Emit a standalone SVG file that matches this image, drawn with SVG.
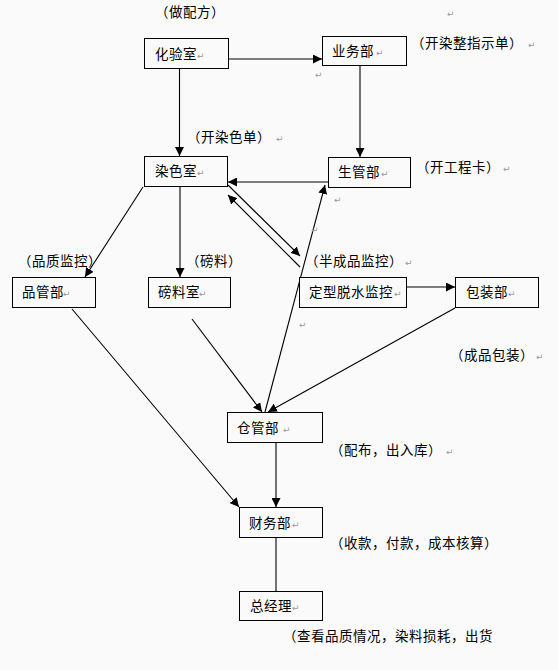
<svg xmlns="http://www.w3.org/2000/svg" width="558" height="670" viewBox="0 0 558 670">
<style>
.box{fill:#fafafa;stroke:#000;stroke-width:1}
.t{font-family:"Noto Sans CJK SC","Noto Sans CJK TC",sans-serif;font-size:13.5px;letter-spacing:0.5px;fill:#000}
.r{font-family:"DejaVu Sans",sans-serif;font-size:9px;fill:#999}
.c{stroke:#000;stroke-width:1.1;fill:none;marker-end:url(#ah)}
</style>
<defs>
<marker id="ah" viewBox="0 0 10 10" refX="10" refY="5" markerUnits="userSpaceOnUse" markerWidth="9" markerHeight="9" orient="auto">
<path d="M0,0 L10,5 L0,10 z" fill="#000"/>
</marker>
</defs>
<rect x="0" y="0" width="558" height="670" fill="#fafafa"/>

<g id="connectors">
<line class="c" x1="229" y1="59" x2="322" y2="59"/>
<line class="c" x1="179.5" y1="69" x2="179.5" y2="156"/>
<line class="c" x1="360" y1="66" x2="360" y2="157"/>
<line class="c" x1="328" y1="182" x2="228" y2="182"/>
<line class="c" x1="143" y1="187" x2="85" y2="277"/>
<line class="c" x1="180" y1="187" x2="180" y2="277"/>
<line class="c" x1="228" y1="185" x2="300" y2="256"/>
<line class="c" x1="300" y1="267" x2="228" y2="195"/>
<line class="c" x1="265" y1="412" x2="325" y2="185"/>
<line class="c" x1="407" y1="287" x2="455" y2="287"/>
<line class="c" x1="72" y1="309" x2="239" y2="507"/>
<line class="c" x1="192" y1="319" x2="262" y2="412"/>
<line class="c" x1="455" y1="308" x2="268" y2="412"/>
<line class="c" x1="276" y1="443" x2="276" y2="507"/>
<line class="c" x1="276" y1="538" x2="276" y2="600"/>
</g>

<g id="n-huayanshi"><rect class="box" x="144.5" y="38.5" width="84" height="30"/><text class="t" x="155" y="58.5">化验室</text><text class="r" x="197" y="58.5">↵</text></g>
<g id="n-yewubu"><rect class="box" x="322.5" y="36.5" width="84" height="29"/><text class="t" x="332" y="55.5">业务部</text><text class="r" x="376" y="55.5">↵</text></g>
<g id="n-ranseshi"><rect class="box" x="144.5" y="156.5" width="83" height="30"/><text class="t" x="155" y="176">染色室</text><text class="r" x="197" y="176">↵</text></g>
<g id="n-shengguanbu"><rect class="box" x="328.5" y="157.5" width="82" height="30"/><text class="t" x="338" y="177">生管部</text><text class="r" x="381" y="177">↵</text></g>
<g id="n-pinguanbu"><rect class="box" x="12.5" y="277.5" width="83" height="30"/><text class="t" x="22" y="297">品管部</text><text class="r" x="63" y="297">↵</text></g>
<g id="n-bangliaoshi"><rect class="box" x="148.5" y="277.5" width="82" height="30"/><text class="t" x="158" y="297">磅料室</text><text class="r" x="199" y="297">↵</text></g>
<g id="n-dingxing"><rect class="box" x="299.5" y="277.5" width="107" height="30"/><text class="t" x="309" y="297">定型脱水监控</text><text class="r" x="394" y="297">↵</text></g>
<g id="n-baozhuangbu"><rect class="box" x="455.5" y="277.5" width="83" height="30"/><text class="t" x="466" y="297">包装部</text><text class="r" x="508" y="297">↵</text></g>
<g id="n-cangguanbu"><rect class="box" x="227.5" y="412.5" width="95" height="30"/><text class="t" x="237" y="433">仓管部</text><text class="r" x="283" y="433">↵</text></g>
<g id="n-caiwubu"><rect class="box" x="239.5" y="507.5" width="83" height="30"/><text class="t" x="249" y="528">财务部</text><text class="r" x="292" y="528">↵</text></g>
<g id="n-zongjingli"><rect class="box" x="239.5" y="591.5" width="83" height="29"/><text class="t" x="250" y="611">总经理</text><text class="r" x="292" y="611">↵</text></g>

<g id="labels">
<text class="t" x="155" y="17">（做配方）</text>
<text class="t" x="411" y="47.5">（开染整指示单）</text><text class="r" x="528" y="47.5">↵</text>
<text class="t" x="187" y="142">（开染色单）</text><text class="r" x="276" y="142">↵</text>
<text class="t" x="416" y="172">（开工程卡）</text><text class="r" x="503" y="172">↵</text>
<text class="t" x="18" y="265.5">（品质监控）</text>
<text class="t" x="186" y="265.5">（磅料）</text>
<text class="t" x="305" y="265.5">（半成品监控）</text><text class="r" x="405" y="265.5">↵</text>
<text class="t" x="450" y="360">（成品包装）</text><text class="r" x="536" y="360">↵</text>
<text class="t" x="330" y="455">（配布，出入库）</text><text class="r" x="446" y="455">↵</text>
<text class="t" x="330" y="548">（收款，付款，成本核算）</text>
<text class="t" x="283" y="641">（查看品质情况，染料损耗，出货</text>
<text class="r" x="447" y="17">↵</text>
<text class="r" x="315" y="78">↵</text>
<text class="r" x="334" y="203">↵</text>
<text class="r" x="311" y="233">↵</text>
<text class="r" x="299" y="328">↵</text>
</g>
</svg>
